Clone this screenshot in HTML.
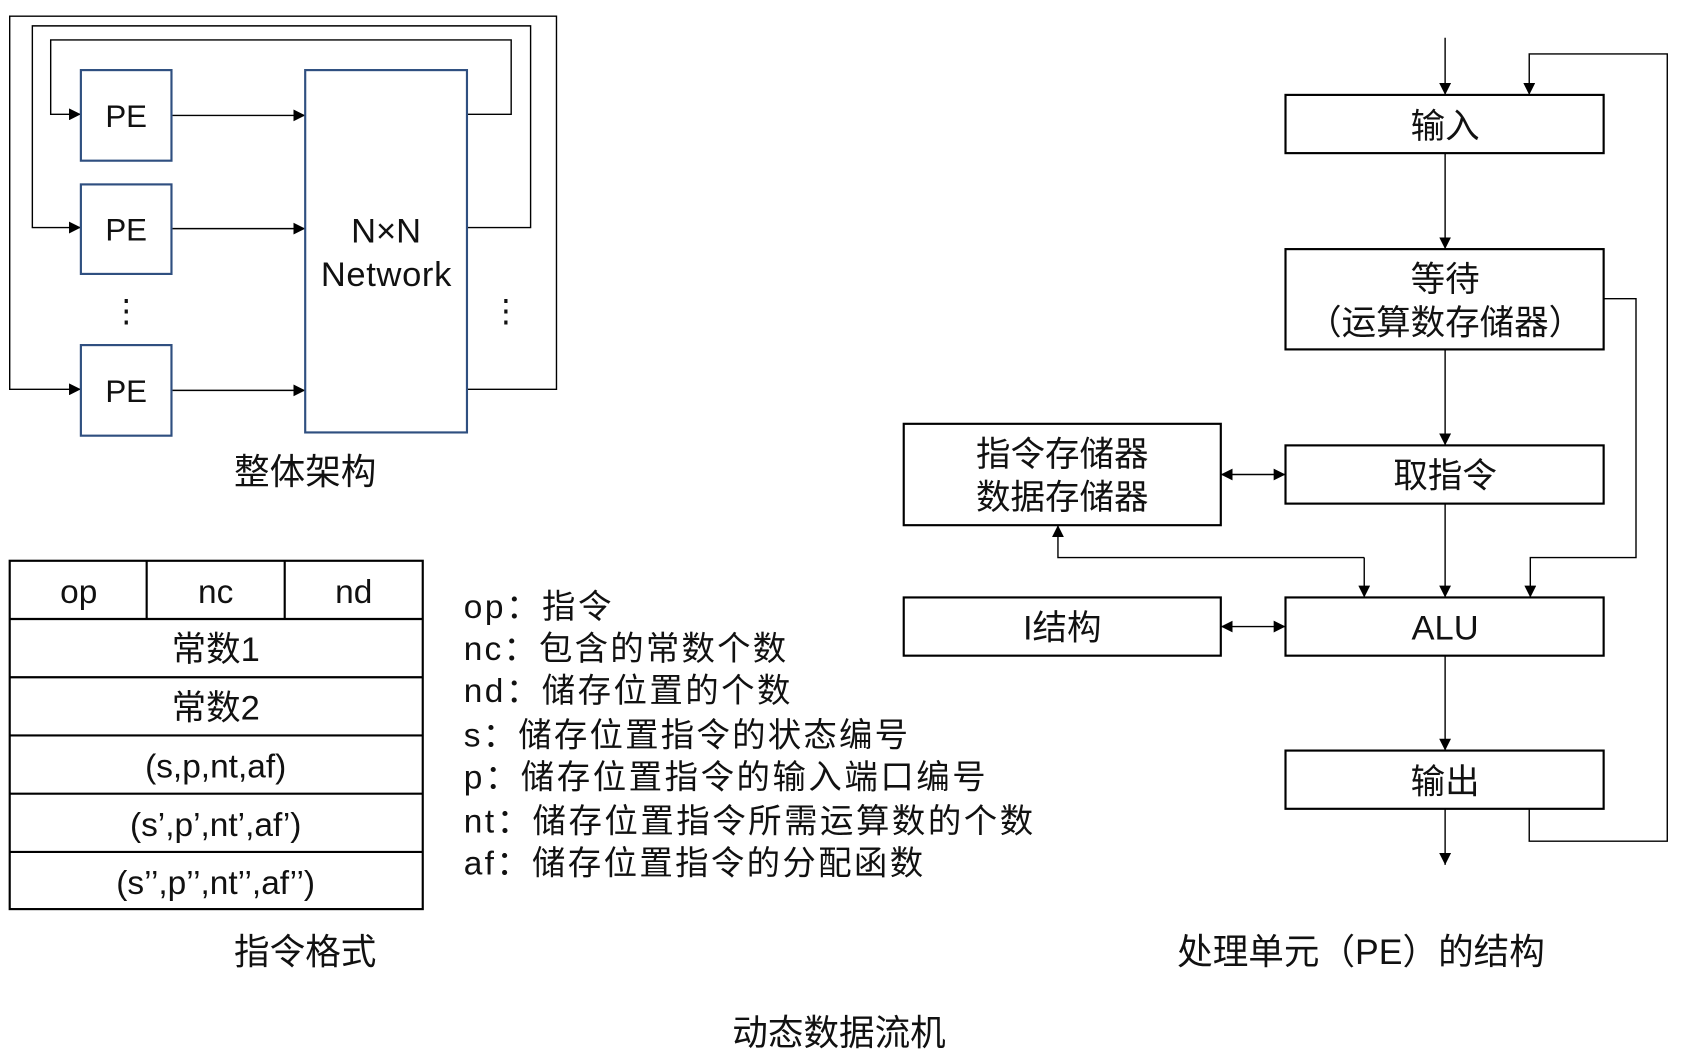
<!DOCTYPE html>
<html><head><meta charset="utf-8"><style>
html,body{margin:0;padding:0;background:#fff;}
svg{display:block;}
text{font-family:"Liberation Sans","Noto Sans CJK SC",sans-serif;fill:#111;}
</style></head><body>
<svg width="1691" height="1059" viewBox="0 0 1568 982" preserveAspectRatio="none" xmlns="http://www.w3.org/2000/svg">
<defs>
<marker id="a" viewBox="0 0 10 10" refX="10" refY="5" markerWidth="11" markerHeight="11" markerUnits="userSpaceOnUse" orient="auto"><path d="M0,0L10,5L0,10z" fill="#000"/></marker>
<marker id="as" viewBox="0 0 10 10" refX="0" refY="5" markerWidth="11" markerHeight="11" markerUnits="userSpaceOnUse" orient="auto"><path d="M10,0L0,5L10,10z" fill="#000"/></marker>
</defs>
<g fill="none" stroke="#000" stroke-width="1.3">
<polyline points="433,361 516,361 516,15 9,15 9,361 75,361" marker-end="url(#a)"/>
<polyline points="433,211 492,211 492,24 30,24 30,211 75,211" marker-end="url(#a)"/>
<polyline points="433,106 474,106 474,37 47,37 47,106 75,106" marker-end="url(#a)"/>
<line x1="160" y1="107" x2="283" y2="107" marker-end="url(#a)"/>
<line x1="160" y1="212" x2="283" y2="212" marker-end="url(#a)"/>
<line x1="160" y1="362" x2="283" y2="362" marker-end="url(#a)"/>
</g>
<g fill="#fff" stroke="#2f4f80" stroke-width="2">
<rect x="75" y="65" width="84" height="84"/>
<rect x="75" y="171" width="84" height="83"/>
<rect x="75" y="320" width="84" height="84"/>
<rect x="283" y="65" width="150" height="336"/>
</g>
<g font-size="29" text-anchor="middle">
<text x="117" y="118">PE</text><text x="117" y="223">PE</text><text x="117" y="373">PE</text>
<text x="358" y="225" font-size="32">N×N</text><text x="358" y="265" font-size="32" textLength="121">Network</text>
<text x="117" y="298">⋮</text><text x="469" y="298">⋮</text>
<text x="283" y="449" font-size="33">整体架构</text>
</g>
<g fill="none" stroke="#000" stroke-width="2">
<rect x="9" y="520" width="383" height="323"/>
<line x1="9" y1="574" x2="392" y2="574"/><line x1="9" y1="628" x2="392" y2="628"/>
<line x1="9" y1="682" x2="392" y2="682"/><line x1="9" y1="736" x2="392" y2="736"/>
<line x1="9" y1="790" x2="392" y2="790"/>
<line x1="136" y1="520" x2="136" y2="574"/><line x1="264" y1="520" x2="264" y2="574"/>
</g>
<g font-size="31" text-anchor="middle">
<text x="73" y="559">op</text><text x="200" y="559">nc</text><text x="328" y="559">nd</text>
<text x="200" y="613" font-size="32">常数1</text><text x="200" y="667" font-size="32">常数2</text>
<text x="200" y="721">(s,p,nt,af)</text><text x="200" y="775">(s’,p’,nt’,af’)</text>
<text x="200" y="829">(s’’,p’’,nt’’,af’’)</text>
<text x="283" y="894" font-size="33">指令格式</text>
</g>
<g font-size="31">
<text x="430" y="573" textLength="137">op：指令</text>
<text x="430" y="612" textLength="299">nc：包含的常数个数</text>
<text x="430" y="651" textLength="303">nd：储存位置的个数</text>
<text x="430" y="692" textLength="412">s：储存位置指令的状态编号</text>
<text x="430" y="731" textLength="484">p：储存位置指令的输入端口编号</text>
<text x="430" y="772" textLength="528">nt：储存位置指令所需运算数的个数</text>
<text x="430" y="811" textLength="426">af：储存位置指令的分配函数</text>
</g>
<g fill="none" stroke="#000" stroke-width="1.3">
<line x1="1340" y1="35" x2="1340" y2="88" marker-end="url(#a)"/>
<polyline points="1418,750 1418,780 1546,780 1546,50 1418,50 1418,88" marker-end="url(#a)"/>
<polyline points="1487,277 1517,277 1517,517 1419,517 1419,554" marker-end="url(#a)"/>
<line x1="1340" y1="142" x2="1340" y2="231" marker-end="url(#a)"/>
<line x1="1340" y1="324" x2="1340" y2="413" marker-end="url(#a)"/>
<line x1="1340" y1="467" x2="1340" y2="554" marker-end="url(#a)"/>
<line x1="1340" y1="608" x2="1340" y2="696" marker-end="url(#a)"/>
<line x1="1340" y1="750" x2="1340" y2="802" marker-end="url(#a)"/>
<line x1="1132" y1="440" x2="1192" y2="440" marker-start="url(#as)" marker-end="url(#a)"/>
<line x1="1132" y1="581" x2="1192" y2="581" marker-start="url(#as)" marker-end="url(#a)"/>
<polyline points="1265,517 981,517 981,487" marker-end="url(#a)"/>
<line x1="1265" y1="517" x2="1265" y2="554" marker-end="url(#a)"/>
</g>
<g fill="#fff" stroke="#000" stroke-width="2">
<rect x="1192" y="88" width="295" height="54"/>
<rect x="1192" y="231" width="295" height="93"/>
<rect x="1192" y="413" width="295" height="54"/>
<rect x="1192" y="554" width="295" height="54"/>
<rect x="1192" y="696" width="295" height="54"/>
<rect x="838" y="393" width="294" height="94"/>
<rect x="838" y="554" width="294" height="54"/>
</g>
<g font-size="32" text-anchor="middle">
<text x="1340" y="128">输入</text>
<text x="1340" y="270">等待</text>
<text x="1340" y="310">（运算数存储器）</text>
<text x="1340" y="452">取指令</text>
<text x="1340" y="593">ALU</text>
<text x="1340" y="736">输出</text>
<text x="985" y="432">指令存储器</text>
<text x="985" y="472">数据存储器</text>
<text x="985" y="593">I结构</text>
<text x="1262" y="894" font-size="33">处理单元（PE）的结构</text>
<text x="778" y="969" font-size="33">动态数据流机</text>
</g>
</svg>
</body></html>
